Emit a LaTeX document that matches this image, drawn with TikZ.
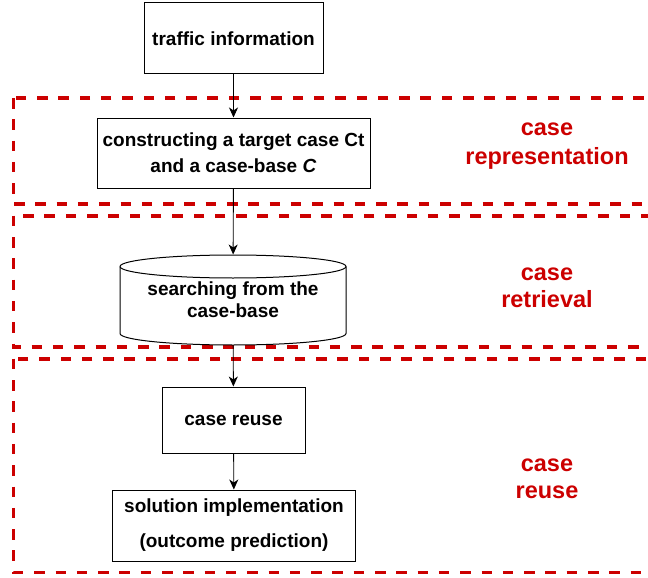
\documentclass[tikz,border=0pt]{standalone}
\usepackage{fontspec}
\setmainfont{Liberation Sans}
\usetikzlibrary{arrows.meta}
\definecolor{zonered}{HTML}{CC0000}

\begin{document}
\begin{tikzpicture}[x=1pt,y=1pt,
  box/.style={draw, line width=1pt, align=center, inner sep=0pt,
    font=\fontsize{19}{22}\selectfont\bfseries},
  zone/.style={draw=zonered, line width=3.6pt, dash pattern=on 10.5pt off 10.8pt},
  zonelab/.style={text=zonered, align=center, font=\fontsize{23.5}{27}\selectfont\bfseries},
  flow/.style={-{Stealth[length=10pt,width=9pt,inset=3pt]}, line width=0.9pt}]
\clip (0,0) rectangle (648,-578);
% red zones
\draw [zone] (13.5,-98) rectangle (670,-204);
\draw [zone] (13.5,-215.7) rectangle (670,-346.7);
\draw [zone] (13.5,-358.7) rectangle (670,-572.3);
\node [zonelab] (repl) at (547,-146) {case\\[2pt]representation};
\node [zonelab] (retl) at (547,-287.5) {case\\retrieval};
\node [zonelab] (reul) at (547,-479) {case\\reuse};
% steps
\node [box, minimum width=179pt, minimum height=71pt] (info) at (233.5,-38.5) {traffic information};
\node [box, minimum width=273pt, minimum height=70pt] (target) at (233.5,-153)
  {constructing a target case Ct\\[4pt]and a case-base \textit{C}};
\node [box, draw=none, minimum width=226pt, minimum height=90pt] (search) at (233,-300)
  {searching from the\\case-base};
\draw [line width=1pt] (120,-266.5) arc (180:-180:113 and 11.5);
\draw [line width=1pt] (120,-266.5) -- (120,-333.5) arc (180:360:113 and 11.5) -- (346,-266.5);
\node [box, minimum width=143pt, minimum height=66pt] (reuse) at (233.5,-420) {case reuse};
\node [box, minimum width=243pt, minimum height=71pt] (sol) at (234,-525.5)
  {solution implementation\\[13pt](outcome prediction)};
% arrows
\draw [flow] (info) -- (target);
\draw [flow] (target) -- (search);
\draw [flow] (search) -- (reuse);
\draw [flow] (reuse) -- (sol);
\end{tikzpicture}
\end{document}
